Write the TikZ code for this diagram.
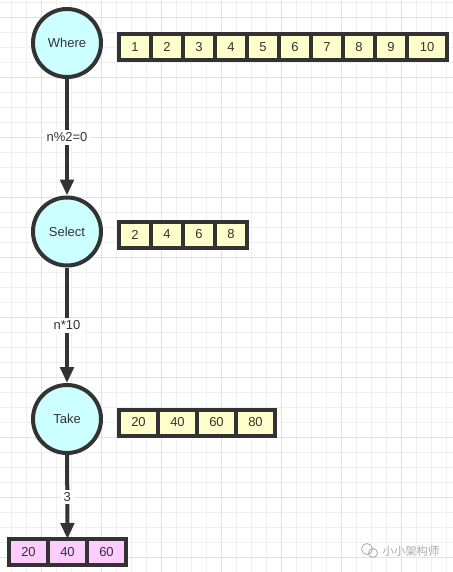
\documentclass[tikz,border=0pt]{standalone}
\usepackage{fontspec}
\setmainfont{Liberation Sans}
\newfontfamily\cjkfont{Noto Sans CJK SC}
\usetikzlibrary{positioning,arrows.meta}

\definecolor{lineColor}{RGB}{51,51,51}
\definecolor{opColor}{RGB}{204,255,255}
\definecolor{cellColor}{RGB}{255,255,204}
\definecolor{resultColor}{RGB}{255,204,255}
\definecolor{gridMinor}{RGB}{240,240,240}
\definecolor{gridMajor}{RGB}{226,226,226}
\definecolor{markColor}{RGB}{170,170,170}

\tikzset{
  op/.style={circle, draw=lineColor, line width=3pt, fill=opColor,
    minimum size=51pt, inner sep=0pt, text=lineColor,
    font=\fontsize{9.75}{12}\selectfont},
  cell/.style={draw=lineColor, line width=3pt, fill=cellColor,
    minimum width=24pt, minimum height=19.5pt, inner sep=0pt, outer sep=0pt,
    text=lineColor, font=\fontsize{9.75}{12}\selectfont},
  wide/.style={cell, minimum width=29.25pt},
  result/.style={wide, fill=resultColor},
  flow/.style={draw=lineColor, line width=3pt, -{Triangle[length=12pt,width=10pt]}},
  cond/.style={fill=white, inner sep=2pt, text=lineColor,
    font=\fontsize{9.75}{12}\selectfont}
}

\begin{document}
\begin{tikzpicture}[x=0.75pt,y=-0.75pt]
  \useasboundingbox (0,0) rectangle (453,572);
  \fill[white] (0,0) rectangle (453,572);
  % Grid
  \foreach \x in {11,26,...,446} \draw[gridMinor,line width=0.75pt] (\x,0) -- (\x,572);
  \foreach \y in {2,17,...,572} \draw[gridMinor,line width=0.75pt] (0,\y) -- (453,\y);
  \foreach \x in {41,101,...,446} \draw[gridMajor,line width=0.75pt] (\x,0) -- (\x,572);
  \foreach \y in {17,77,...,572} \draw[gridMajor,line width=0.75pt] (0,\y) -- (453,\y);

  % Operators
  \node[op] (where) at (67,43) {Where};
  \node[op] (select) at (67,231.5) {Select};
  \node[op] (take) at (67,419) {Take};

  % Where input
  \node[cell] (w1) at (135,47) {1};
  \node[cell, right=0pt of w1] (w2) {2};
  \node[cell, right=0pt of w2] (w3) {3};
  \node[cell, right=0pt of w3] (w4) {4};
  \node[cell, right=0pt of w4] (w5) {5};
  \node[cell, right=0pt of w5] (w6) {6};
  \node[cell, right=0pt of w6] (w7) {7};
  \node[cell, right=0pt of w7] (w8) {8};
  \node[cell, right=0pt of w8] (w9) {9};
  \node[cell, minimum width=30pt, right=0pt of w9] (w10) {10};

  % Select input
  \node[cell] (s1) at (135,234.5) {2};
  \node[cell, right=0pt of s1] (s2) {4};
  \node[cell, right=0pt of s2] (s3) {6};
  \node[cell, right=0pt of s3] (s4) {8};

  % Take input
  \node[wide] (t1) at (138.5,422.5) {20};
  \node[wide, right=0pt of t1] (t2) {40};
  \node[wide, right=0pt of t2] (t3) {60};
  \node[wide, right=0pt of t3] (t4) {80};

  % Output
  \node[result] (r2) at (67.5,552) {40};
  \node[result, left=0pt of r2] (r1) {20};
  \node[result, right=0pt of r2] (r3) {60};

  % Flow
  \draw[flow] (where) -- node[cond]{n\%2=0} (select);
  \draw[flow] (select) -- node[cond]{n*10} (take);
  \draw[flow] (take) -- node[cond]{3} (r2);

  % Watermark
  \node[markColor, font=\cjkfont\fontsize{8.5}{10}\selectfont] (mark) at (411,551) {小小架构师};
  \draw[markColor, line width=0.6pt] (367,549) circle (5.5);
  \draw[markColor, line width=0.6pt] (373,553) circle (4.5);
\end{tikzpicture}
\end{document}
